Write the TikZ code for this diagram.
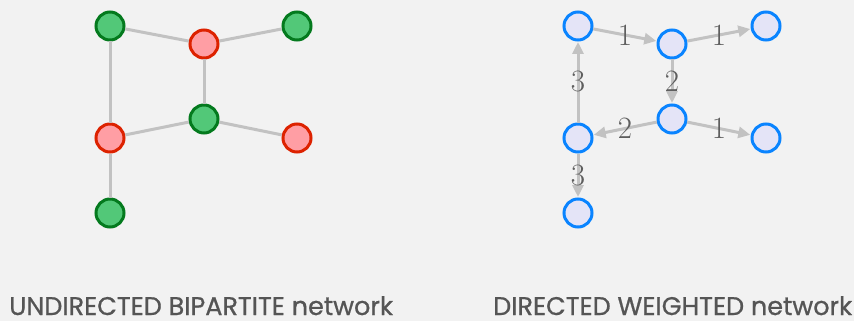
\documentclass[tikz,border=0pt]{standalone}
\usepackage{fontspec}
\newfontfamily\capfont{Poppins}[FakeBold=0.8]
\usetikzlibrary{arrows.meta}
\definecolor{bg}{HTML}{F2F2F2}
\definecolor{gfill}{HTML}{52C878}
\definecolor{gdraw}{HTML}{047A1E}
\definecolor{rfill}{HTML}{FF9EA4}
\definecolor{rdraw}{HTML}{DD2200}
\definecolor{bfill}{HTML}{E4E4F7}
\definecolor{bdraw}{HTML}{0A84FF}
\definecolor{edgec}{HTML}{C2C2C2}
\definecolor{labc}{HTML}{5E5E5E}
\definecolor{txtc}{HTML}{555555}
\tikzset{
  vtx/.style={circle, minimum size=28pt, inner sep=0pt, line width=3pt},
  gv/.style={vtx, fill=gfill, draw=gdraw},
  rv/.style={vtx, fill=rfill, draw=rdraw},
  bv/.style={vtx, fill=bfill, draw=bdraw},
  ed/.style={draw=edgec, line width=3pt},
  arr/.style={ed, -{Triangle[length=12pt,width=11pt]}, shorten >=0.5pt},
  wl/.style={text=labc, font=\fontsize{31}{31}\selectfont, inner sep=0pt},
  captxt/.style={text=txtc, font=\capfont\fontsize{25.5}{25.5}\selectfont, inner sep=0pt, anchor=base west}
}
\begin{document}
\begin{tikzpicture}[x=1pt,y=-1pt]
\fill[bg] (0,0) rectangle (854,321);
\useasboundingbox (0,0) rectangle (854,321);
% left graph
\node[gv] (a) at (110,26) {};
\node[rv] (b) at (204,44) {};
\node[gv] (c) at (297,26) {};
\node[gv] (d) at (204,119) {};
\node[rv] (e) at (110,138) {};
\node[rv] (f) at (297,138) {};
\node[gv] (g) at (110,213) {};
\path[ed] (a) -- (b);
\path[ed] (b) -- (c);
\path[ed] (b) -- (d);
\path[ed] (d) -- (e);
\path[ed] (d) -- (f);
\path[ed] (a) -- (e);
\path[ed] (e) -- (g);
% right graph
\node[bv] (p) at (578,26) {};
\node[bv] (q) at (672,44) {};
\node[bv] (r) at (766,26) {};
\node[bv] (s) at (672,119) {};
\node[bv] (t) at (578,138) {};
\node[bv] (u) at (766,138) {};
\node[bv] (v) at (578,213) {};
\path[arr] (p) -- (q) node[wl, midway] (w1) {1};
\path[arr] (q) -- (r) node[wl, midway] (w2) {1};
\path[arr] (q) -- (s) node[wl, midway] (w3) {2};
\path[arr] (s) -- (t) node[wl, midway] (w4) {2};
\path[arr] (s) -- (u) node[wl, midway] (w5) {1};
\path[arr] (t) -- (p) node[wl, midway] (w6) {3};
\path[arr] (t) -- (v) node[wl, midway] (w7) {3};
% captions
\node[captxt] (c1) at (9,315) {UNDIRECTED BIPARTITE network};
\node[captxt] (c2) at (493,315) {DIRECTED WEIGHTED network};
\end{tikzpicture}
\end{document}
